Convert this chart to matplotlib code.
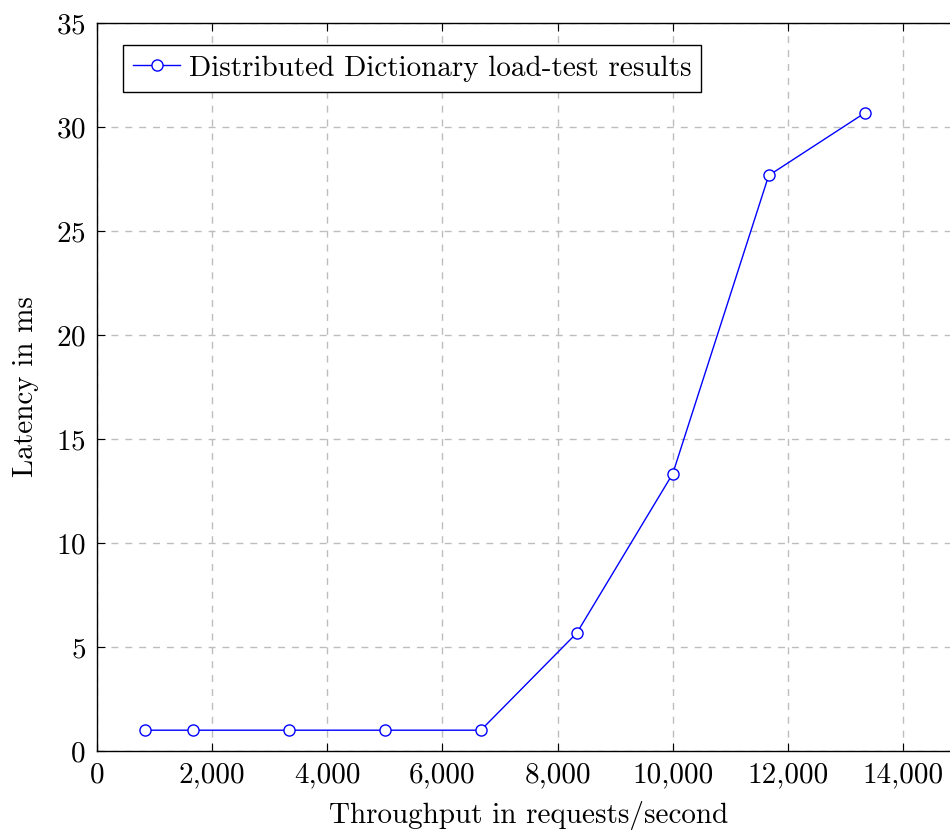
import matplotlib
matplotlib.use("Agg")
import matplotlib.pyplot as plt
from matplotlib.ticker import FuncFormatter

# load-test data
throughput = [833, 1667, 3333, 5000, 6667, 8333, 10000, 11667, 13333]
latency = [1.0, 1.0, 1.0, 1.0, 1.0, 5.67, 13.33, 27.67, 30.67]
serie = "Distributed Dictionary load-test results"

plt.rcParams["font.family"] = "cmr10"
plt.rcParams["axes.formatter.use_mathtext"] = True
plt.rcParams["font.size"] = 21

W, H = 950, 833
fig = plt.figure(figsize=(W / 100, H / 100), dpi=100)
x0, x1, y0, y1 = 97, 960.6, 23, 751
ax = fig.add_axes([x0 / W, (H - y1) / H, (x1 - x0) / W, (y1 - y0) / H])

ax.plot(throughput, latency, color="blue", lw=1, marker="o", markersize=8,
        markerfacecolor="white", markeredgecolor="blue", markeredgewidth=1,
        label=serie, zorder=3)

ax.set_xlim(0, 15000)
ax.set_ylim(0, 35)
ax.set_xticks(range(0, 15000, 2000))
ax.set_yticks(range(0, 36, 5))
ax.xaxis.set_major_formatter(FuncFormatter(lambda v, p: f"{v:,.0f}"))

ax.grid(True, color="#bdbdbd", linestyle=(0, (5, 5)), linewidth=1)
ax.tick_params(direction="in", top=True, right=True, length=6, width=0.8,
               pad=8, labelsize=21)
for s in ax.spines.values():
    s.set_linewidth(1)

ax.set_xlabel("Throughput in requests/second", fontsize=21, labelpad=9)
ax.set_ylabel("Latency in ms", fontsize=21, labelpad=12)

leg = ax.legend(loc="upper left", bbox_to_anchor=(26 / (x1 - x0), 1 - 22 / (y1 - y0)),
                borderaxespad=0, fancybox=False, edgecolor="black", framealpha=1,
                handlelength=1.6, handletextpad=0.3, borderpad=0.35, fontsize=21)
leg.get_frame().set_linewidth(1)

fig.savefig("out.png", dpi=100)
